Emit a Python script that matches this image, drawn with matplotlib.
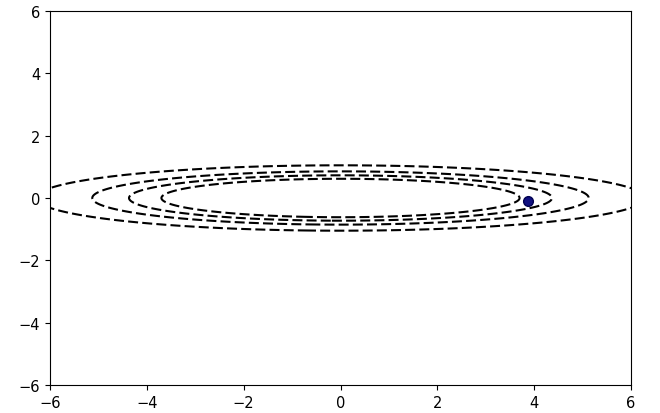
import numpy as np
import matplotlib
matplotlib.use("Agg")
import matplotlib.pyplot as plt

# Quadratic bowl f(x, y) = x^2 / x_scale + y^2
x_scale = 36.0
levels = [0.38, 0.53, 0.73, 1.1]
point_x = [3.87]
point_y = [-0.1]
ticks = [-6, -4, -2, 0, 2, 4, 6]

fig = plt.figure(figsize=(6.6, 4.14), dpi=100)
ax = fig.add_axes([50/660, 1 - 386/414, 581/660, 374/414])

xs = np.linspace(-7, 7, 800)
ys = np.linspace(-7, 7, 800)
X, Y = np.meshgrid(xs, ys)
Z = X**2 / x_scale + Y**2
cs = ax.contour(X, Y, Z, levels=levels, colors='k', linewidths=1.5)
cs.set_linestyle((0, (4.8, 2.0)))

ax.plot(point_x, point_y, 'o', color='#101080', markeredgecolor='#000050', markersize=7)

ax.set_xlim(-6, 6)
ax.set_ylim(-6, 6)
ax.set_xticks(ticks)
ax.set_yticks(ticks)
ax.tick_params(labelsize=10.5)

fig.savefig("out.png", dpi=100)
